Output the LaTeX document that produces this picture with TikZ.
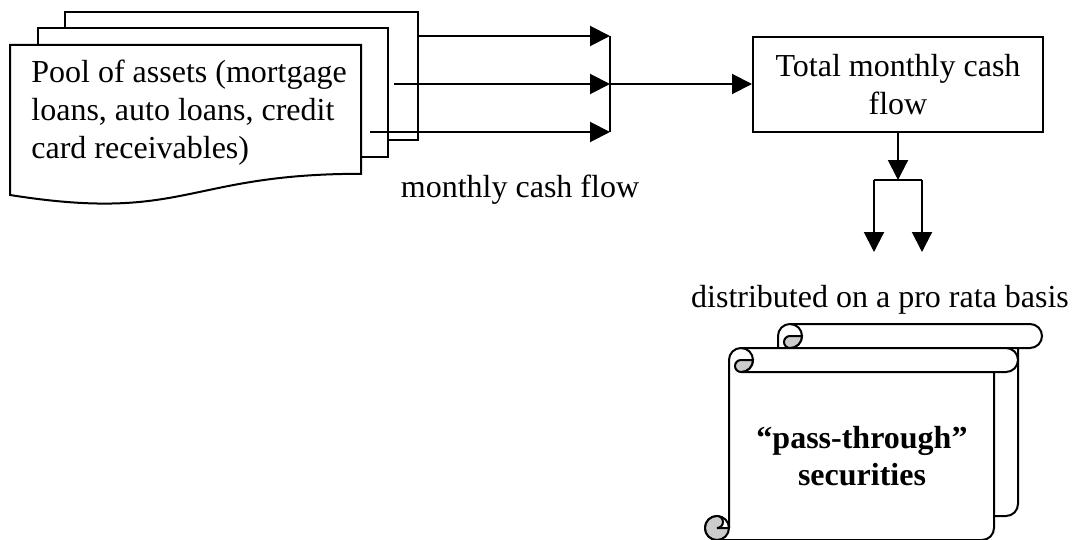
\documentclass[tikz,border=0pt]{standalone}
\usepackage{fontspec}
\setmainfont{Liberation Serif}
\usetikzlibrary{arrows.meta,positioning}
\definecolor{curlgray}{gray}{0.8}

\begin{document}
\begin{tikzpicture}[x=0.5pt, y=-0.5pt,
      every node/.style={font=\fontsize{16}{18.8}\selectfont},
      page/.style={draw, fill=white, line width=1pt},
      link/.style={line width=1pt},
      flow/.style={line width=1pt, -{Triangle[length=10pt,width=10pt]}},
      curl/.style={draw, fill=curlgray, line width=1pt},
      box/.style={draw, rectangle, align=center, line width=1pt, minimum width=145pt, minimum height=47.5pt, inner sep=0pt}
    ]
    \useasboundingbox (0,0) rectangle (1076,540);

    \draw[page] (65,12) rectangle (418,140);
    \draw[page] (38,28) rectangle (388,157);
    \draw[page] (10,45) -- (361,45) -- (361,173.8) .. controls (185.5,173.8) and (185.5,222.9) .. (10,195) -- cycle;
    \node[anchor=north west, align=left, inner sep=0pt] (pool) at (31,60) {Pool of assets (mortgage\\loans, auto loans, credit\\card receivables)};

    \draw[page] (790,324) -- (1030,324) arc[start angle=90, end angle=-90, radius=6pt] -- (1018,348) -- (1018,504)
        arc[start angle=0, end angle=-90, radius=6pt] -- (766,516) arc[start angle=-90, end angle=-360, radius=6pt]
        -- (778,336) arc[start angle=180, end angle=90, radius=6pt] -- cycle;
    \draw[link] (790,324) arc[start angle=90, end angle=-90, radius=6pt] -- (1018,348);
    \draw[curl] (802,336) arc[start angle=0, end angle=-90, radius=6pt] arc[start angle=-90, end angle=-270, radius=3pt] -- cycle;

    \draw[page] (741,348) -- (1006,348) arc[start angle=90, end angle=-90, radius=6pt] -- (994,372) -- (994,528)
        arc[start angle=0, end angle=-90, radius=6pt] -- (717,540) arc[start angle=-90, end angle=-360, radius=6pt]
        -- (729,360) arc[start angle=180, end angle=90, radius=6pt] -- cycle;
    \draw[link] (741,348) arc[start angle=90, end angle=-90, radius=6pt] -- (994,372);
    \draw[curl] (753,360) arc[start angle=0, end angle=-90, radius=6pt] arc[start angle=-90, end angle=-270, radius=3pt] -- cycle;
    \draw[curl] (729,528) arc[start angle=0, end angle=-270, radius=6pt] arc[start angle=90, end angle=-90, radius=3pt] -- cycle;
    \node[font=\fontsize{16}{18.8}\selectfont\bfseries, align=center] (passthru) at (862,456) {“pass-through”\\securities};

    \node[box] (total) at (898,84.5) {Total monthly cash\\flow};

    \coordinate (flow1) at (418,36);
    \coordinate (flow2) at (394,84);
    \coordinate (flow3) at (370,132);
    \coordinate (merge) at (610,84);
    \draw[flow] (flow1) -- (flow1 -| merge);
    \draw[flow] (flow2) -- (merge);
    \draw[flow] (flow3) -- (flow3 -| merge);
    \draw[link] (flow1 -| merge) -- (flow3 -| merge);
    \draw[flow] (merge) -- (merge -| total.west);
    \node[anchor=base] (monthly) at (520,197) {monthly cash flow};

    \coordinate (split) at (898,180);
    \coordinate (splitL) at (874,180);
    \coordinate (splitR) at (922,180);
    \coordinate (outL) at (874,252);
    \coordinate (outR) at (922,252);
    \draw[flow] (total) -- (split);
    \draw[link] (splitL) -- (splitR);
    \draw[flow] (splitL) -- (outL);
    \draw[flow] (splitR) -- (outR);
    \node[anchor=base] (prorata) at (880,307) {distributed on a pro rata basis};
\end{tikzpicture}
\end{document}
